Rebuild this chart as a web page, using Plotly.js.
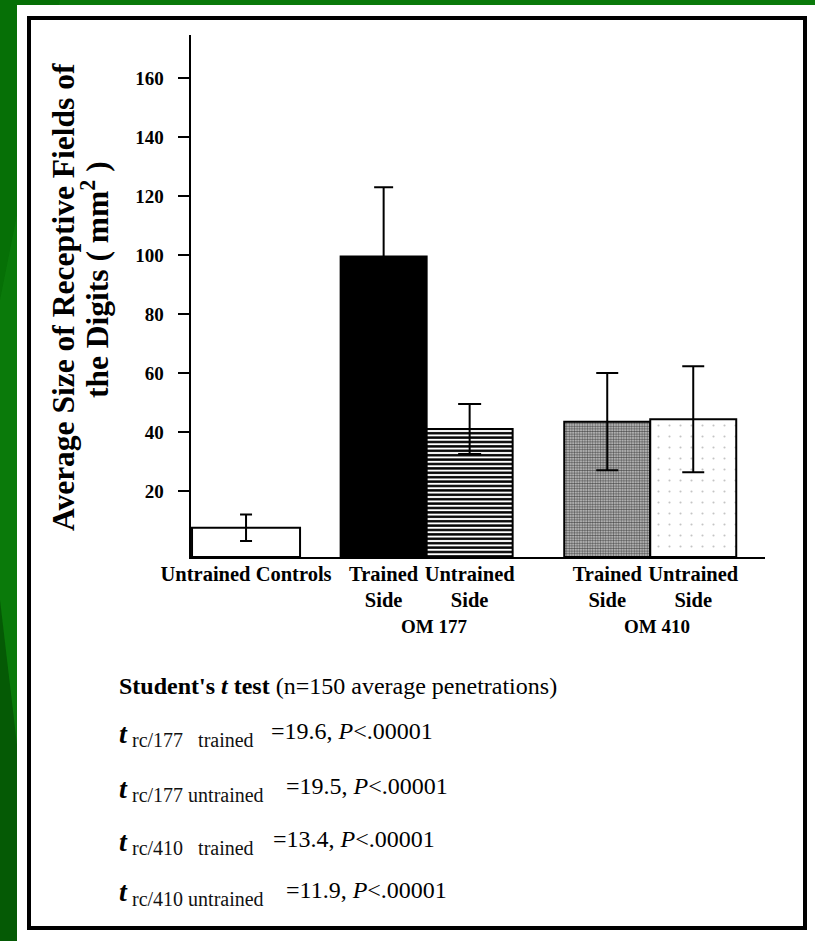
<!DOCTYPE html>
<html>
<head>
<meta charset="utf-8">
<script src="https://cdn.plot.ly/plotly-3.0.1.min.js"></script>
<style>
  html, body { margin: 0; padding: 0; background: #0a7a0a; }
  #chart { width: 815px; height: 941px; }
</style>
</head>
<body>
<div id="chart"></div>
<script>
// ---- data ----
const categories = ['Untrained Controls', 'Trained<br>Side', 'Untrained<br>Side', 'Trained<br>Side', 'Untrained<br>Side'];
const groups = ['', 'OM 177', 'OM 177', 'OM 410', 'OM 410'];
const means = [7.5, 99.5, 41, 43.5, 44.3];
const errors = [4.5, 23.5, 8.5, 16.5, 18];
const yTickVals = [20, 40, 60, 80, 100, 120, 140, 160];
const yTitleLines = ['Average Size of Receptive Fields of', 'the Digits ( mm<sup>2</sup> )'];
const testHeader = "<b>Student's <i>t</i> test</b> (n=150 average penetrations)";
const tSubs = ['rc/177&nbsp;&nbsp; trained', 'rc/177 untrained', 'rc/410&nbsp;&nbsp; trained', 'rc/410 untrained'];
const tValues = ['19.6', '19.5', '13.4', '11.9'];
const pValue = '.00001';

// ---- layout geometry (px) ----
const W = 815, H = 941;
const ML = 191, MR = 50, MT = 35, MB = 384;
const PW = W - ML - MR, PH = H - MT - MB;
const PLOT_BOTTOM = H - MB;
const px = x => (x - ML) / PW;
const py = y => (PLOT_BOTTOM - y) / PH;

const GAP = 0.6;
const groupOrder = [];
groups.forEach(g => { if (!groupOrder.includes(g)) groupOrder.push(g); });
const pos = groups.map((g, i) => i + groupOrder.indexOf(g) * GAP);
const Y_RANGE = [-2.4, 174.6];
const X_RANGE = [-0.64, -0.64 + PW / 86];

const FONT = 'Liberation Serif, Times New Roman, serif';

const barStyles = [
  { width: 1.256, color: '#ffffff', pattern: { shape: '' }, cap: 6 },
  { width: 1.0, color: '#000000', pattern: { shape: '' }, cap: 9.5 },
  { width: 1.0, color: '#ffffff', pattern: { shape: '-', size: 4.4, solidity: 0.55, fgcolor: '#000000', bgcolor: '#ffffff', fillmode: 'replace' }, cap: 11.5 },
  { width: 1.0, color: '#a8a8a8', pattern: { shape: '.', size: 2.6, solidity: 0.55, fgcolor: '#555555', bgcolor: '#d4d4d4', fillmode: 'replace' }, cap: 11 },
  { width: 1.0, color: '#ffffff', pattern: { shape: '.', size: 11, solidity: 0.03, fgcolor: '#c4c4c4', bgcolor: '#ffffff', fillmode: 'replace' }, cap: 11 }
];

const traces = means.map((m, i) => ({
  type: 'bar',
  x: [pos[i]],
  y: [m - Y_RANGE[0]],
  base: Y_RANGE[0],
  width: barStyles[i].width,
  marker: {
    color: barStyles[i].color,
    pattern: barStyles[i].pattern,
    line: { color: '#000000', width: 2 }
  },
  error_y: { type: 'data', array: [errors[i]], visible: true, color: '#000000', thickness: 2, width: barStyles[i].cap },
  hoverinfo: 'skip',
  showlegend: false
}));

const annotations = [];
annotations.push({ xref: 'paper', yref: 'paper', x: px(63), y: py(297), text: '<b>' + yTitleLines[0] + '</b>', textangle: -90, showarrow: false, xanchor: 'center', yanchor: 'middle', font: { family: FONT, size: 31.5, color: '#000' } });
annotations.push({ xref: 'paper', yref: 'paper', x: px(95), y: py(279), text: '<b>' + yTitleLines[1] + '</b>', textangle: -90, showarrow: false, xanchor: 'center', yanchor: 'middle', font: { family: FONT, size: 31.5, color: '#000' } });
groupOrder.forEach(g => {
  if (!g) return;
  const idx = groups.map((gg, i) => gg === g ? i : -1).filter(i => i >= 0);
  const cx = idx.reduce((s, i) => s + pos[i], 0) / idx.length;
  annotations.push({ xref: 'x', yref: 'paper', x: cx, xshift: 7, y: py(626), text: '<b>' + g + '</b>', showarrow: false, xanchor: 'center', yanchor: 'middle', font: { family: FONT, size: 19, color: '#000' } });
});
annotations.push({ xref: 'paper', yref: 'paper', x: px(117), y: py(686), text: testHeader, showarrow: false, xanchor: 'left', yanchor: 'middle', font: { family: FONT, size: 24, color: '#000' } });
const lineY = [731, 786, 839, 890];
const valX = [269, 284, 271, 284];
tSubs.forEach((s, i) => {
  annotations.push({ xref: 'paper', yref: 'paper', x: px(117), y: py(lineY[i] + 2), text: '<i>t</i>', showarrow: false, xanchor: 'left', yanchor: 'middle', font: { family: FONT, size: 28, color: '#000', weight: 'bold' } });
  annotations.push({ xref: 'paper', yref: 'paper', x: px(130), y: py(lineY[i] + 9), text: s, showarrow: false, xanchor: 'left', yanchor: 'middle', font: { family: FONT, size: 20, color: '#111' } });
  annotations.push({ xref: 'paper', yref: 'paper', x: px(valX[i]), y: py(lineY[i]), text: '=' + tValues[i] + ', <i>P</i>&lt;' + pValue, showarrow: false, xanchor: 'left', yanchor: 'middle', font: { family: FONT, size: 24, color: '#000' } });
});

const shapes = [
  { type: 'path', xref: 'paper', yref: 'paper', layer: 'below', path: `M ${px(0)} ${py(300)} L ${px(60)} ${py(0)} L ${px(0)} ${py(0)} Z`, fillcolor: '#067006', line: { width: 0 } },
  { type: 'path', xref: 'paper', yref: 'paper', layer: 'below', path: `M ${px(0)} ${py(600)} L ${px(40)} ${py(941)} L ${px(0)} ${py(941)} Z`, fillcolor: '#055a05', line: { width: 0 } },
  { type: 'rect', xref: 'paper', yref: 'paper', layer: 'below', x0: px(17), x1: px(815), y0: py(941), y1: py(5), fillcolor: '#ffffff', line: { width: 0 } },
  { type: 'rect', xref: 'paper', yref: 'paper', layer: 'below', x0: px(29), x1: px(805), y0: py(928), y1: py(18), fillcolor: 'rgba(0,0,0,0)', line: { color: '#000000', width: 4 } }
];

const layout = {
  width: W, height: H,
  margin: { l: ML, r: MR, t: MT, b: MB, pad: 0 },
  paper_bgcolor: '#0a7a0a',
  plot_bgcolor: 'rgba(0,0,0,0)',
  barmode: 'overlay',
  showlegend: false,
  font: { family: FONT, color: '#000' },
  xaxis: {
    range: X_RANGE, showgrid: false, zeroline: false,
    showline: true, linecolor: '#000', linewidth: 2,
    ticks: '', tickmode: 'array', tickvals: pos, ticktext: categories.map(c => '<b>' + c + '</b>'),
    ticklabelstandoff: -3,
    tickfont: { family: FONT, size: 20.5, color: '#000' }, fixedrange: true
  },
  yaxis: {
    range: Y_RANGE, showgrid: false, zeroline: false,
    showline: true, linecolor: '#000', linewidth: 2.5,
    ticks: 'outside', ticklen: 11, tickwidth: 2, tickcolor: '#000',
    ticklabelstandoff: 10,
    tickmode: 'array', tickvals: yTickVals, ticktext: yTickVals.map(v => '<b>' + v + '</b>'),
    tickfont: { family: FONT, size: 19, color: '#000' }, fixedrange: true
  },
  annotations: annotations,
  shapes: shapes
};

Plotly.newPlot('chart', traces, layout, { displayModeBar: false, staticPlot: true });
</script>
</body>
</html>
